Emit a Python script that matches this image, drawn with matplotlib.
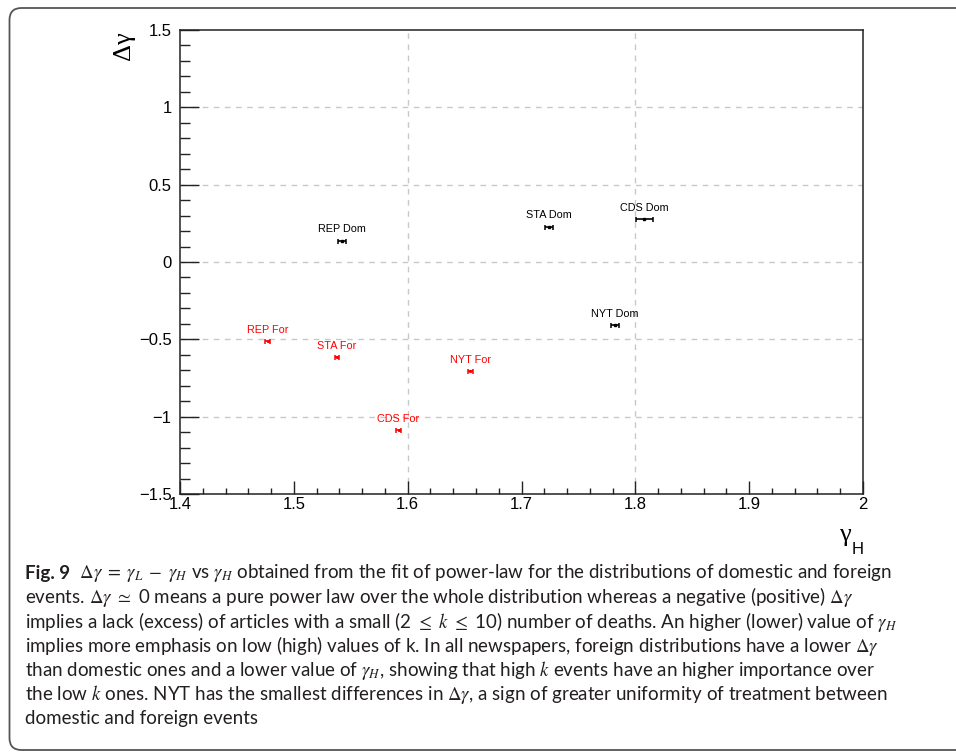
import matplotlib
matplotlib.use("Agg")
import matplotlib.pyplot as plt
from matplotlib.patches import FancyBboxPatch
from matplotlib.ticker import MultipleLocator, FuncFormatter

# ---- data ----
names = ["REP Dom", "STA Dom", "CDS Dom", "NYT Dom",
         "REP For", "STA For", "NYT For", "CDS For"]
gamma_h = [1.542, 1.724, 1.808, 1.782, 1.477, 1.538, 1.655, 1.592]
delta_gamma = [0.139, 0.229, 0.277, -0.410, -0.511, -0.617, -0.704, -1.088]
gamma_h_err = [0.0035, 0.0035, 0.0072, 0.0037, 0.002, 0.002, 0.002, 0.002]
kind = ["Dom", "Dom", "Dom", "Dom", "For", "For", "For", "For"]
kind_color = {"Dom": "black", "For": "#ff0000"}

grid_x = [1.6, 1.8]
grid_y = [-1.0, -0.5, 0.0, 0.5, 1.0]

caption_first = r"  $\Delta\gamma\;=\;\gamma_L\;-\;\gamma_H$ vs $\gamma_H$ obtained from the fit of power-law for the distributions of domestic and foreign"
caption_lines = [
    r"events. $\Delta\gamma$ $\simeq$ 0 means a pure power law over the whole distribution whereas a negative (positive) $\Delta\gamma$",
    r"implies a lack (excess) of articles with a small (2 $\leq$ $k$ $\leq$ 10) number of deaths. An higher (lower) value of $\gamma_H$",
    r"implies more emphasis on low (high) values of k. In all newspapers, foreign distributions have a lower $\Delta\gamma$",
    r"than domestic ones and a lower value of $\gamma_H$, showing that high $k$ events have an higher importance over",
    r"the low $k$ ones. NYT has the smallest differences in $\Delta\gamma$, a sign of greater uniformity of treatment between",
    r"domestic and foreign events",
]

W, H = 956, 753
fig = plt.figure(figsize=(W / 100, H / 100), dpi=100)
ax = fig.add_axes([180 / W, 1 - 494 / H, 683 / W, 464 / H])

for v in grid_x:
    ax.axvline(v, color="#c8c8c8", lw=1, ls=(0, (4, 4)), zorder=0)
for v in grid_y:
    ax.axhline(v, color="#c8c8c8", lw=1, ls=(0, (4, 4)), zorder=0)

for name, x, y, e, k in zip(names, gamma_h, delta_gamma, gamma_h_err, kind):
    c = kind_color[k]
    ax.errorbar(x, y, xerr=e, fmt="s", ms=1.6 if k == "Dom" else 1.2, color=c, ecolor=c,
                elinewidth=1.2, capsize=1.8, capthick=1.1)
    ax.annotate(name, (x, y), xytext=(0, 8), textcoords="offset points",
                ha="center", va="center", fontsize=7.8, color=c,
                family="Liberation Sans")

ax.set_xlim(1.4, 2.0)
ax.set_ylim(-1.5, 1.5)
ax.xaxis.set_major_locator(MultipleLocator(0.1))
ax.xaxis.set_minor_locator(MultipleLocator(0.02))
ax.yaxis.set_major_locator(MultipleLocator(0.5))
ax.yaxis.set_minor_locator(MultipleLocator(0.1))
fmt = FuncFormatter(lambda v, p: ("%g" % round(v, 3)).replace("-", "\u2212"))
ax.xaxis.set_major_formatter(fmt)
ax.yaxis.set_major_formatter(fmt)
ax.tick_params(axis="both", which="both", direction="in", top=False, right=False,
               width=1, color="#222222", labelsize=12)
ax.tick_params(axis="y", which="major", length=14, pad=6)
ax.tick_params(axis="y", which="minor", length=7)
ax.tick_params(axis="x", which="major", length=9.5, pad=2)
ax.tick_params(axis="x", which="minor", length=4.5)
for lab in ax.get_xticklabels() + ax.get_yticklabels():
    lab.set_family("Liberation Sans")
for s in ax.spines.values():
    s.set_linewidth(1.1)
    s.set_color("#222222")

# axis titles
fig.text(124 / W, 1 - 46 / H, "\u0394\u03b3", rotation=90, ha="center", va="center",
         fontsize=19, family="Liberation Serif")
fig.text(845 / W, 1 - 535 / H, "\u03b3", ha="center", va="center",
         fontsize=19, family="Liberation Serif")
fig.text(858 / W, 1 - 549 / H, "H", ha="center", va="center",
         fontsize=12, family="Liberation Sans")

# caption
cap_font = ["Lato", "DejaVu Sans"]
cap_size = 13.5
y0 = 573
step = 24.3
t1 = fig.text(25 / W, 1 - y0 / H, "Fig. 9", fontsize=cap_size, weight="bold",
              family=cap_font, va="center", color="#231f20")
ann = ax.annotate(caption_first, xy=(1, 0.5), xycoords=t1, va="center", ha="left",
                  fontsize=cap_size, family=cap_font, math_fontfamily="stix",
                  color="#231f20", annotation_clip=False)
body = []
for i, line in enumerate(caption_lines):
    body.append(fig.text(25 / W, 1 - (y0 + step * (i + 1)) / H, line, fontsize=cap_size,
                         family=cap_font, math_fontfamily="stix", va="center",
                         color="#231f20"))

# shrink the caption font so the first line ends where it does in the figure
fig.canvas.draw()
r = fig.canvas.get_renderer()
right = ann.get_window_extent(r).x1
scale = (935 - 25) / (right - 25)
if scale < 1:
    for t in [t1, ann] + body:
        t.set_fontsize(cap_size * scale)

# rounded frame around the figure and caption
frame = FancyBboxPatch((0.095, 0.03), 10.0, 7.42,
                       boxstyle="round,pad=0,rounding_size=0.12",
                       transform=fig.dpi_scale_trans, fill=False,
                       ec="#555555", lw=1.3)
fig.add_artist(frame)

fig.savefig("out.png", dpi=100)
